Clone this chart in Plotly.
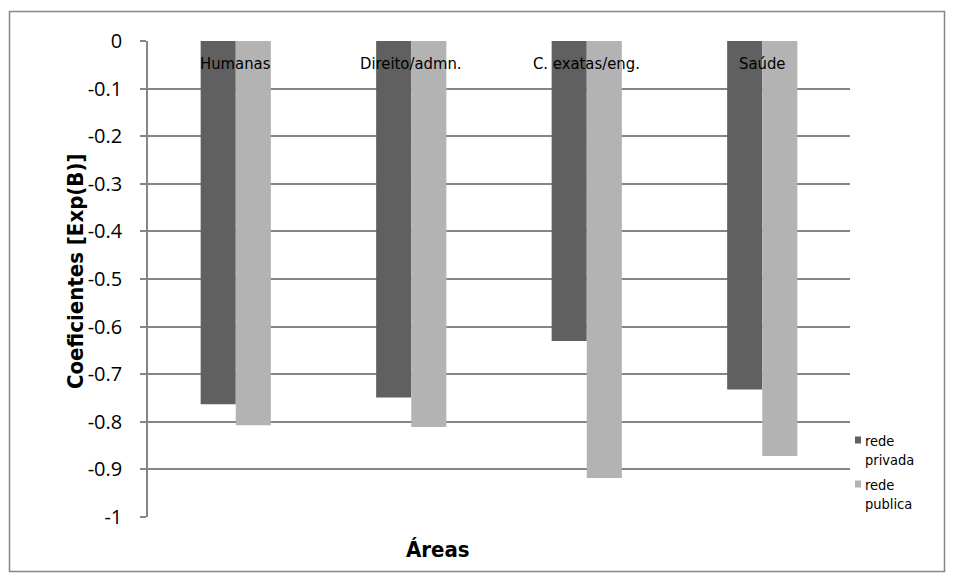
import plotly.graph_objects as go

# Areas of study and coefficients for each school network
categorias = ["Humanas", "Direito/admn.", "C. exatas/eng.", "Saúde"]
rede_privada = [-0.763, -0.749, -0.630, -0.732]
rede_publica = [-0.807, -0.811, -0.918, -0.872]
series_names = ["rede<br>privada", "rede<br>publica"]
series_colors = ["#606060", "#b3b3b3"]
y_ticks = [0, -0.1, -0.2, -0.3, -0.4, -0.5, -0.6, -0.7, -0.8, -0.9, -1]
y_tick_labels = ["0", "-0.1", "-0.2", "-0.3", "-0.4", "-0.5", "-0.6", "-0.7", "-0.8", "-0.9", "-1"]

W, H = 956, 581
L, R, T, B = 148, 106, 41, 64
pw, ph = W - L - R, H - T - B

narrow = "DejaVu Sans Condensed, Liberation Sans Narrow, sans-serif"
grid = "#868686"


def px(xp):
    return (xp - L) / pw


def py(yp):
    return (H - B - yp) / ph


fig = go.Figure()
for vals, name, col in zip([rede_privada, rede_publica], series_names, series_colors):
    fig.add_trace(go.Bar(x=categorias, y=vals, name=name, showlegend=False,
                         marker=dict(color=col, line=dict(width=0))))

# category labels sit just under the zero line
for c in categorias:
    fig.add_annotation(x=c, y=0, xref="x", yref="y", text=c, showarrow=False,
                       yanchor="middle", yshift=-22,
                       font=dict(family=narrow, size=16.5, color="#000000"))

# compact legend on the right: small swatch + two-line label
for i, (name, col) in enumerate(zip(series_names, series_colors)):
    mid = 440 + i * 44
    fig.add_shape(type="rect", xref="paper", yref="paper",
                  x0=px(855), x1=px(861), y0=py(mid + 3.5), y1=py(mid - 3.5),
                  line=dict(width=0), fillcolor=col)
    fig.add_annotation(x=px(863), y=py(mid - 9), xref="paper", yref="paper",
                       text=name, showarrow=False, xanchor="left", yanchor="top",
                       align="left", font=dict(family=narrow, size=14.5, color="#000000"))

# axis titles
fig.add_annotation(x=px(438), y=py(549), xref="paper", yref="paper",
                   text="<b>Áreas</b>", showarrow=False,
                   xanchor="center", yanchor="middle",
                   font=dict(family=narrow, size=22, color="#000000"))
fig.add_annotation(x=px(75), y=py(271), xref="paper", yref="paper",
                   text="<b>Coeficientes [Exp(B)]</b>", showarrow=False, textangle=-90,
                   xanchor="center", yanchor="middle",
                   font=dict(family=narrow, size=22, color="#000000"))

# chart border
fig.add_shape(type="rect", xref="paper", yref="paper",
              x0=px(9.5), x1=px(944.5), y0=py(571.5), y1=py(11.5),
              line=dict(color="#868686", width=1.5), fillcolor="rgba(0,0,0,0)",
              layer="below")

fig.update_layout(
    width=W, height=H,
    margin=dict(l=L, r=R, t=T, b=B),
    paper_bgcolor="white", plot_bgcolor="white",
    barmode="group", bargap=0.6, bargroupgap=0,
    showlegend=False,
    xaxis=dict(showticklabels=False, showgrid=False, zeroline=False, showline=False,
               ticks=""),
    yaxis=dict(range=[-1, 0], tickvals=y_ticks, ticktext=y_tick_labels,
               showgrid=True, gridcolor=grid, gridwidth=1.5,
               zeroline=False, showline=True, linecolor=grid, linewidth=1.5,
               ticks="outside", ticklen=6, tickcolor=grid, tickwidth=1.5,
               ticklabelstandoff=14,
               tickfont=dict(family="Open Sans, sans-serif", size=20, color="#000000")),
)

fig.write_html("out.html")
